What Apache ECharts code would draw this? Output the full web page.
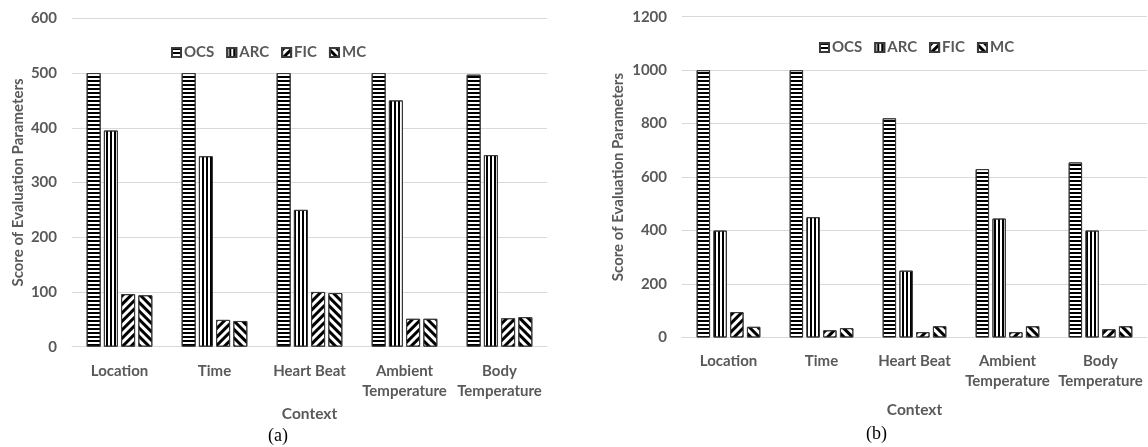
<!DOCTYPE html>
<html>
<head>
<meta charset="utf-8">
<script src="https://cdn.jsdelivr.net/npm/echarts@6/dist/echarts.min.js"></script>
<style>
html,body{margin:0;padding:0;background:#fff;}
#chart{width:1148px;height:447px;}
</style>
</head>
<body>
<div id="chart"></div>
<script>
// ---- data ----
const categories = ['Location', 'Time', 'Heart Beat', 'Ambient\nTemperature', 'Body\nTemperature'];
const seriesNames = ['OCS', 'ARC', 'FIC', 'MC'];
// chart (a)
const aOCS = [500, 500, 500, 500, 497];
const aARC = [395, 348, 250, 450, 350];
const aFIC = [96, 49, 100, 51, 52];
const aMC  = [94, 47, 98, 51, 54];
// chart (b)
const bOCS = [1000, 1000, 820, 630, 655];
const bARC = [400, 450, 250, 445, 400];
const bFIC = [95, 27, 20, 20, 31];
const bMC  = [40, 35, 42, 42, 42];

const yTicksA = [0, 100, 200, 300, 400, 500, 600];
const yTicksB = [0, 200, 400, 600, 800, 1000, 1200];

// ---- styles ----
const FONT = 'Lato';
const GREY = '#595959';
const decals = {
  OCS: {symbol: 'rect', symbolSize: 1, dashArrayX: [1, 0], dashArrayY: [2, 2], rotation: 0, color: '#000'},
  ARC: {symbol: 'rect', symbolSize: 1, dashArrayX: [1, 0], dashArrayY: [2, 2], rotation: Math.PI / 2, color: '#000'},
  FIC: {symbol: 'rect', symbolSize: 1, dashArrayX: [1, 0], dashArrayY: [2.5, 3], rotation: -Math.PI / 4, color: '#000'},
  MC:  {symbol: 'rect', symbolSize: 1, dashArrayX: [1, 0], dashArrayY: [2.5, 3], rotation: Math.PI / 4, color: '#000'}
};

function makeSeries(name, data, idx, barWidth, barGap) {
  return {
    name: name,
    type: 'bar',
    xAxisIndex: idx,
    yAxisIndex: idx,
    data: data,
    barWidth: barWidth,
    barGap: barGap,
    itemStyle: {color: '#fff', borderColor: '#3a3a3a', borderWidth: 1, decal: decals[name]},
    emphasis: {disabled: true},
    animation: false
  };
}

const dataA = [aOCS, aARC, aFIC, aMC];
const dataB = [bOCS, bARC, bFIC, bMC];

const series = [];
seriesNames.forEach((n, i) => series.push(makeSeries(n, dataA[i], 0, 14, '23%')));
seriesNames.forEach((n, i) => series.push(makeSeries(n, dataB[i], 1, 13.4, '25%')));

function xAxis(gridIndex, nameGap) {
  return {
    type: 'category', gridIndex: gridIndex, data: categories,
    name: 'Context', nameLocation: 'middle', nameGap: nameGap,
    nameTextStyle: {fontFamily: FONT, fontWeight: 'bold', fontSize: 15.5, color: GREY},
    axisLine: {show: true, lineStyle: {color: '#d9d9d9', width: 1}},
    axisTick: {show: false},
    axisLabel: {interval: 0, margin: 14, fontFamily: FONT, fontWeight: 'bold', fontSize: 15, color: GREY, lineHeight: 20}
  };
}
function yAxis(gridIndex, max, interval, nameGap) {
  return {
    type: 'value', gridIndex: gridIndex, min: 0, max: max, interval: interval,
    name: 'Score of Evaluation Parameters', nameLocation: 'middle', nameRotate: 90, nameGap: nameGap,
    nameTextStyle: {fontFamily: FONT, fontWeight: 'bold', fontSize: 15, color: GREY},
    axisLine: {show: false}, axisTick: {show: false},
    splitLine: {lineStyle: {color: '#d9d9d9', width: 1}},
    axisLabel: {margin: 15, fontFamily: FONT, fontWeight: 'bold', fontSize: 15, color: GREY,
      formatter: v => String(v)}
  };
}

const legendBase = {
  data: seriesNames, orient: 'horizontal', itemWidth: 9, itemHeight: 9, itemGap: 12,
  textStyle: {fontFamily: FONT, fontWeight: 'bold', fontSize: 15, color: GREY, padding: [0, 0, 0, -2]},
  selectedMode: false, icon: 'rect'
};

const option = {
  backgroundColor: '#fff',
  animation: false,
  aria: {enabled: false},
  grid: [
    {left: 72, right: 601, top: 18.3, bottom: 100.3, containLabel: false},
    {left: 682, right: 1, top: 16.7, bottom: 109.5, containLabel: false}
  ],
  xAxis: [xAxis(0, 56), xAxis(1, 64)],
  yAxis: [yAxis(0, 600, 100, 46), yAxis(1, 1200, 200, 56)],
  legend: [
    Object.assign({}, legendBase, {left: 166, top: 40}),
    Object.assign({}, legendBase, {left: 814, top: 35})
  ],
  graphic: [
    {type: 'text', left: 268, top: 427, style: {text: '(a)', font: '18px "Liberation Serif"', fill: '#000'}},
    {type: 'text', left: 866, top: 425, style: {text: '(b)', font: '18px "Liberation Serif"', fill: '#000'}}
  ],
  series: series
};

const chart = echarts.init(document.getElementById('chart'), null, {renderer: 'canvas'});
chart.setOption(option);
</script>
</body>
</html>
